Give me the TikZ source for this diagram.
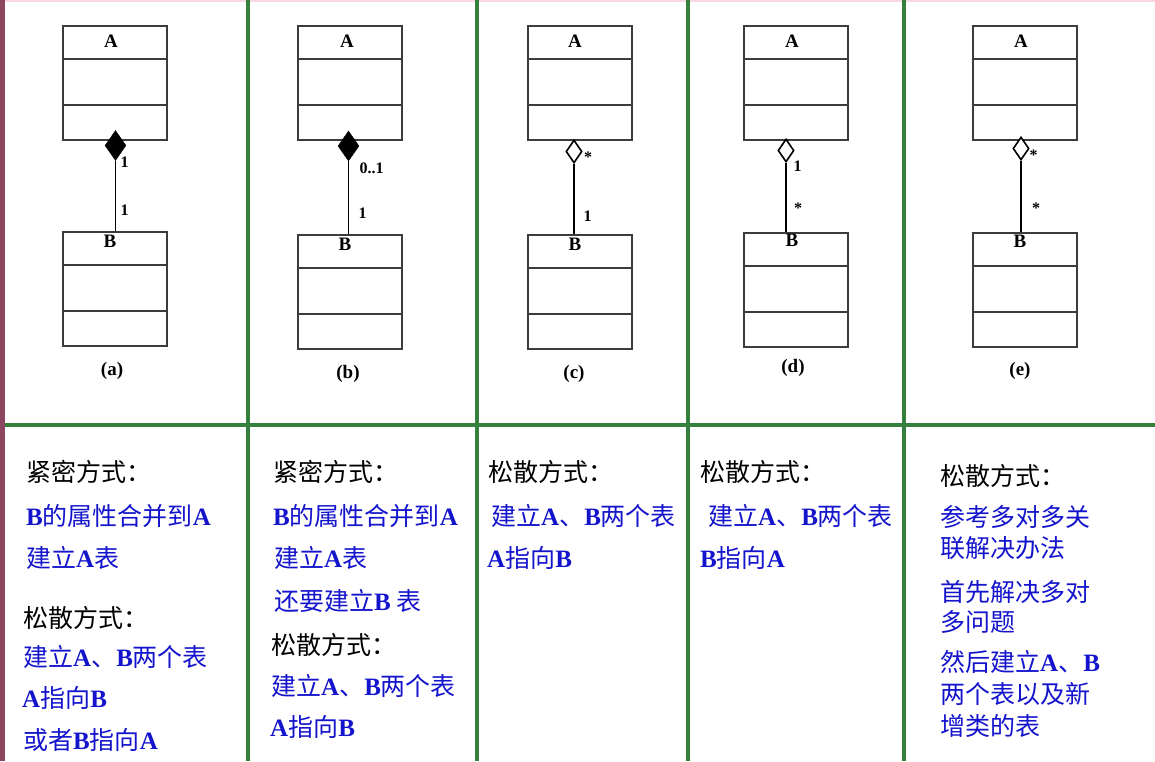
\documentclass[tikz,border=0pt]{standalone}
\usepackage{fontspec}
\setmainfont{Liberation Serif}
\newfontfamily\cjk{Noto Sans CJK SC}
\usetikzlibrary{shapes.geometric}
\definecolor{gridgreen}{RGB}{52,128,60}
\definecolor{edgered}{RGB}{140,70,95}
\definecolor{edgepink}{RGB}{250,215,222}
\definecolor{txtblue}{RGB}{20,20,205}
\definecolor{boxgray}{RGB}{60,60,60}
\newcommand{\lb}[1]{{\rmfamily\bfseries #1}}
\begin{document}
\begin{tikzpicture}[x=1pt,y=-1pt,
  classbox/.style={draw=boxgray, line width=1.8pt, minimum width=104pt, minimum height=114pt, inner sep=0pt, anchor=north west},
  divline/.style={draw=boxgray, line width=1.8pt},
  cname/.style={inner sep=0pt, font=\fontsize{19}{19}\selectfont\bfseries},
  mult/.style={inner sep=0pt, font=\fontsize{16}{16}\selectfont\bfseries},
  capt/.style={inner sep=0pt, font=\fontsize{19}{19}\selectfont\bfseries},
  fdia/.style={diamond, fill=black, draw=black, minimum width=21pt, minimum height=30pt, inner sep=0pt},
  hdia/.style={diamond, fill=white, draw=black, line width=1.6pt, minimum width=16pt, minimum height=23pt, inner sep=0pt},
  link/.style={draw=black, line width=1.2pt},
  txt/.style={anchor=base west, inner sep=0pt, font=\cjk\fontsize{25}{25}\selectfont},
  bluetxt/.style={txt, text=txtblue},
  sepline/.style={draw=gridgreen, line width=3.5pt}
]
\useasboundingbox[fill=white] (0,0) rectangle (1155,761);

% frame lines
\draw[draw=edgepink, line width=2pt] (0,1) -- (1155,1);
\draw[sepline] (0,425) -- (1155,425);
\foreach \xx in {248,477,688,904} \draw[sepline] (\xx,0) -- (\xx,761);
\draw[draw=edgered, line width=5pt] (2.5,0) -- (2.5,761);

% class boxes
\foreach \nm/\xx/\ya/\yb in {a/62/25/231, b/297/25/234, c/527/25/234, d/743/25/232, e/972/25/232}{
  \node[classbox] (A\nm) at (\xx,\ya) {};
  \node[classbox] (B\nm) at (\xx,\yb) {};
  \draw[divline] ([yshift=-34pt]A\nm.north west) -- ([yshift=-34pt]A\nm.north east);
  \draw[divline] ([yshift=-80pt]A\nm.north west) -- ([yshift=-80pt]A\nm.north east);
  \draw[divline] ([yshift=-34pt]B\nm.north west) -- ([yshift=-34pt]B\nm.north east);
  \draw[divline] ([yshift=-80pt]B\nm.north west) -- ([yshift=-80pt]B\nm.north east);
}

% class names
\node[cname] (LAa) at (111,41) {A};  \node[cname] (LBa) at (110,241) {B};
\node[cname] (LAb) at (347,41) {A};  \node[cname] (LBb) at (345,244) {B};
\node[cname] (LAc) at (575,41) {A};  \node[cname] (LBc) at (575,244) {B};
\node[cname] (LAd) at (792,41) {A};  \node[cname] (LBd) at (792,240) {B};
\node[cname] (LAe) at (1021,41) {A}; \node[cname] (LBe) at (1020,241) {B};

% diamonds
\node[fdia] (Da) at (115.5,145.5) {};
\node[fdia] (Db) at (348.5,146) {};
\node[hdia] (Dc) at (574,151.5) {};
\node[hdia] (Dd) at (786,150.5) {};
\node[hdia] (De) at (1021,148.5) {};

% connectors
\foreach \nm in {a,b,c,d,e}{
  \draw[link] (D\nm.south) -- (D\nm.south |- B\nm.north);
}

% multiplicities
\node[mult] (ma1) at (124.5,162.5) {1};
\node[mult] (ma2) at (124.5,210) {1};
\node[mult] (mb1) at (371.5,168) {0..1};
\node[mult] (mb2) at (362.5,213.5) {1};
\node[mult] (mc1) at (588,157.5) {*};
\node[mult] (mc2) at (587.5,216) {1};
\node[mult] (md1) at (797.5,166) {1};
\node[mult] (md2) at (798,208.5) {*};
\node[mult] (me1) at (1033.5,155) {*};
\node[mult] (me2) at (1036,208.5) {*};

% captions
\node[capt] (ca) at (112,371) {(a)};
\node[capt] (cb) at (348,374) {(b)};
\node[capt] (cc) at (574,374) {(c)};
\node[capt] (cd) at (793,368) {(d)};
\node[capt] (ce) at (1020,371) {(e)};

% column a text
\node[txt] (ta1) at (26,481.5) {紧密方式：};
\node[bluetxt] (ta2) at (26,525.5) {\lb{B}的属性合并到\lb{A}};
\node[bluetxt] (ta3) at (26,567.5) {建立\lb{A}表};
\node[txt] (ta4) at (23,627) {松散方式：};
\node[bluetxt] (ta5) at (23,666.5) {建立\lb{A}、\lb{B}两个表};
\node[bluetxt] (ta6) at (22,707.5) {\lb{A}指向\lb{B}};
\node[bluetxt] (ta7) at (23,749.5) {或者\lb{B}指向\lb{A}};

% column b text
\node[txt] (tb1) at (273,481.5) {紧密方式：};
\node[bluetxt] (tb2) at (273,525.5) {\lb{B}的属性合并到\lb{A}};
\node[bluetxt] (tb3) at (274,567.5) {建立\lb{A}表};
\node[bluetxt] (tb4) at (274,610.5) {还要建立\lb{B} 表};
\node[txt] (tb5) at (271,654.5) {松散方式：};
\node[bluetxt] (tb6) at (271,695.5) {建立\lb{A}、\lb{B}两个表};
\node[bluetxt] (tb7) at (270,736.5) {\lb{A}指向\lb{B}};

% column c text
\node[txt] (tc1) at (488,481.5) {松散方式：};
\node[bluetxt] (tc2) at (491,525.5) {建立\lb{A}、\lb{B}两个表};
\node[bluetxt] (tc3) at (487,567.5) {\lb{A}指向\lb{B}};

% column d text
\node[txt] (td1) at (700,481.5) {松散方式：};
\node[bluetxt] (td2) at (708,525.5) {建立\lb{A}、\lb{B}两个表};
\node[bluetxt] (td3) at (700,567.5) {\lb{B}指向\lb{A}};

% column e text
\node[txt] (te1) at (940,485.5) {松散方式：};
\node[bluetxt] (te2) at (940,526.5) {参考多对多关};
\node[bluetxt] (te3) at (940,557.5) {联解决办法};
\node[bluetxt] (te4) at (940,601.5) {首先解决多对};
\node[bluetxt] (te5) at (940,631.5) {多问题};
\node[bluetxt] (te6) at (940,671.5) {然后建立\lb{A}、\lb{B}};
\node[bluetxt] (te7) at (940,703.5) {两个表以及新};
\node[bluetxt] (te8) at (940,735.5) {增类的表};
\end{tikzpicture}
\end{document}
